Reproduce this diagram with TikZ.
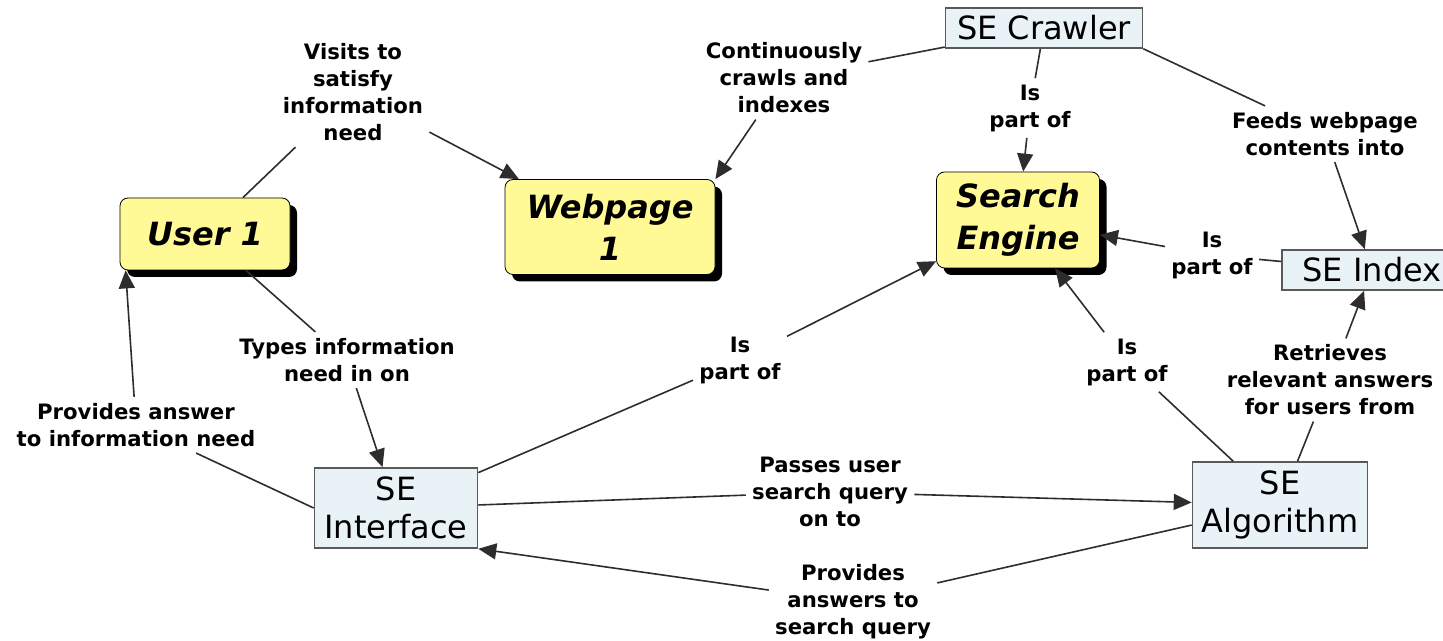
\documentclass[tikz,border=0pt]{standalone}
\usepackage{fontspec}
\setmainfont{DejaVu Sans}
\usetikzlibrary{arrows.meta, shadows}
\definecolor{conceptyellow}{RGB}{255,250,150}
\definecolor{entityblue}{RGB}{233,242,246}
\definecolor{edgegray}{RGB}{45,45,45}
\tikzset{
    concept/.style={draw=black, fill=conceptyellow, rounded corners=4pt, align=center,
        font=\fontsize{16}{21}\selectfont\bfseries\itshape,
        drop shadow={shadow xshift=3.5pt, shadow yshift=-3.5pt, fill=black, opacity=1}}, % yellow main concepts
    entity/.style={draw=black!65, fill=entityblue, line width=0.8pt, align=center, inner sep=1pt,
        font=\fontsize{16}{19}\selectfont}, % light blue boxes
    linkphrase/.style={align=center, inner sep=3pt, font=\fontsize{10.6}{13.5}\selectfont\bfseries}, % linking words
    link/.style={draw=edgegray, line width=0.8pt}, % plain line into a phrase
    arr/.style={link, -{Triangle[length=9pt, width=8pt]}}, % arrow out of a phrase
}
\begin{document}
\begin{tikzpicture}[x=0.5pt, y=-0.5pt]
    \useasboundingbox (0,0) rectangle (1443,641);
    % concepts
    \node[concept, minimum width=85pt, minimum height=36pt] (user) at (205,234) {User 1};
    \node[concept, minimum width=105pt, minimum height=47.5pt] (web) at (610,227) {Webpage\\1};
    \node[concept, minimum width=81.5pt, minimum height=48pt] (engine) at (1018,220) {Search\\Engine};
    \node[entity, minimum width=98.5pt, minimum height=20pt] (crawler) at (1044,28) {SE Crawler};
    \node[entity, minimum width=90pt, minimum height=20pt] (index) at (1372,270) {SE Index};
    \node[entity, minimum width=81.5pt, minimum height=40pt] (interface) at (396,508) {SE\\Interface};
    \node[entity, minimum width=87.5pt, minimum height=43pt] (algorithm) at (1280,505) {SE\\Algorithm};
    % linking phrases
    \node[linkphrase] (visits) at (353,92) {Visits to\\satisfy\\information\\need};
    \node[linkphrase] (crawls) at (784,78) {Continuously\\crawls and\\indexes};
    \node[linkphrase] (partA) at (1030,108) {Is\\part of};
    \node[linkphrase] (feeds) at (1325,134) {Feeds webpage\\contents into};
    \node[linkphrase] (partB) at (1212,255) {Is\\part of};
    \node[linkphrase] (types) at (347,360) {Types information\\need in on};
    \node[linkphrase] (partC) at (740,360) {Is\\part of};
    \node[linkphrase] (partD) at (1127,362) {Is\\part of};
    \node[linkphrase] (retrieves) at (1330,380) {Retrieves\\relevant answers\\for users from};
    \node[linkphrase] (provA) at (136,425) {Provides answer\\to information need};
    \node[linkphrase] (passes) at (830,492) {Passes user\\search query\\on to};
    \node[linkphrase] (provB) at (853,602) {Provides\\answers to\\search query};
    % connections
    \draw[link] (user) -- (visits);
    \draw[arr] (visits) -- (web);
    \draw[link] (crawler) -- (crawls);
    \draw[arr] (crawls) -- (web.north east);
    \draw[link] (crawler) -- (partA);
    \draw[arr] (partA) -- (engine);
    \draw[link] (crawler.south east) -- (feeds);
    \draw[arr] (feeds) -- (index);
    \draw[link] (index) -- (partB);
    \draw[arr] (partB) -- (engine);
    \draw[link] (user) -- (types);
    \draw[arr] (types) -- (interface);
    \draw[link] (interface) -- (partC);
    \draw[arr] (partC) -- (engine);
    \draw[link] (algorithm) -- (partD);
    \draw[arr] (partD) -- (engine);
    \draw[link] (algorithm) -- (retrieves);
    \draw[arr] (retrieves) -- (index);
    \draw[link] (interface.west) -- (provA);
    \draw[arr] (provA) -- ([xshift=3pt]user.south west);
    \draw[link] (interface) -- (passes);
    \draw[arr] (passes) -- (algorithm);
    \draw[link] (algorithm) -- (provB);
    \draw[arr] (provB) -- (interface.south east);
\end{tikzpicture}
\end{document}
